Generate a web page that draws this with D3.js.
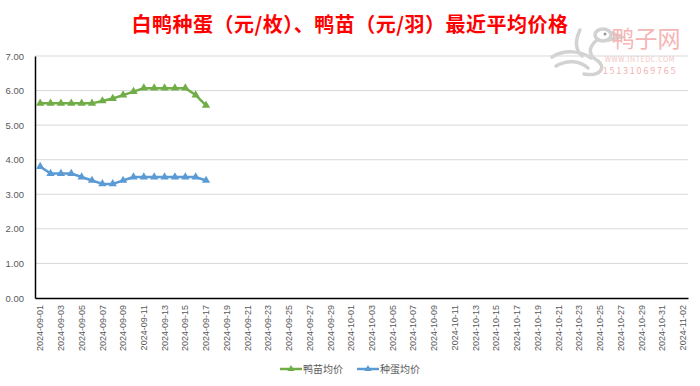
<!DOCTYPE html>
<html>
<head>
<meta charset="utf-8">
<script src="https://cdn.jsdelivr.net/npm/d3@7"></script>
<style>
body { margin: 0; background: #fff; }
svg { display: block; font-family: "Noto Sans CJK SC", "Liberation Sans", sans-serif; }
</style>
</head>
<body>
<svg id="chart" width="700" height="386"></svg>
<script>
var title = "白鸭种蛋（元/枚）、鸭苗（元/羽）最近平均价格"
var firstDay = "2024-09-01"
var lastDay = "2024-11-02"
var yTicks = [0, 1, 2, 3, 4, 5, 6, 7]
var seriesNames = ["鸭苗均价", "种蛋均价"]
var seriesColors = ["#70ad47", "#5b9bd5"]
// values from 09-01 to 09-17, the rest of the range is empty
var duckling = [5.63, 5.63, 5.63, 5.63, 5.63, 5.63, 5.70, 5.77, 5.87, 5.97, 6.07, 6.07, 6.07, 6.07, 6.07, 5.87, 5.57]
var eggs = [3.80, 3.60, 3.60, 3.60, 3.50, 3.40, 3.30, 3.30, 3.40, 3.50, 3.50, 3.50, 3.50, 3.50, 3.50, 3.50, 3.40]

var fmt = d3.timeFormat("%Y-%m-%d")
var parse = d3.timeParse("%Y-%m-%d")
var days = d3.timeDay.range(parse(firstDay), d3.timeDay.offset(parse(lastDay), 1)).map(fmt)

var svg = d3.select("#chart")
var plotL = 35, plotR = 688, plotT = 56, plotB = 298

var x = d3.scaleBand().domain(days).range([plotL, plotR])
var y = d3.scaleLinear().domain([0, 7]).range([plotB, plotT])

// watermark (duck logo + site name)
var wm = svg.append("g")
var logo = wm.append("g").attr("fill", "none").attr("stroke", "#d2d2d2")
    .attr("stroke-width", 3.5).attr("stroke-linecap", "round")
logo.append("ellipse").attr("cx", 603).attr("cy", 35).attr("rx", 8).attr("ry", 6)
logo.append("path").attr("d", "M610,32 L621,37 L609,40")
logo.append("path").attr("d", "M597,40 C587,48 589,56 598,61 C606,67 601,77 584,74")
logo.append("path").attr("d", "M552,57 C565,49 581,51 591,58")
logo.append("path").attr("d", "M556,66 C568,59 580,61 588,68")
logo.append("path").attr("d", "M580,30 C575,40 575,50 582,56")
wm.append("circle").attr("cx", 605).attr("cy", 34).attr("r", 1.5).attr("fill", "#999")
wm.append("text").attr("x", 646).attr("y", 47).attr("text-anchor", "middle")
    .style("font-size", "23px").style("fill", "#f5b5b5").text("鸭子网")
wm.append("text").attr("x", 640).attr("y", 62).attr("text-anchor", "middle")
    .style("font-size", "7px").style("fill", "#f3c4c4").style("letter-spacing", "0.6px").text("WWW.INTEDC.COM")
wm.append("text").attr("x", 640).attr("y", 74).attr("text-anchor", "middle")
    .style("font-size", "9px").style("fill", "#f3b0b0").style("letter-spacing", "1.8px").text("15131069765")

// title
svg.append("text")
    .attr("x", 350).attr("y", 32)
    .attr("text-anchor", "middle")
    .style("font-size", "20px").style("font-weight", "bold").style("fill", "#ff0000")
    .style("letter-spacing", "0.5px")
    .text(title)

// grid
svg.append("g").selectAll("line")
    .data(yTicks.slice(1))
    .enter().append("line")
    .attr("x1", plotL).attr("x2", plotR)
    .attr("y1", function(d) { return y(d) }).attr("y2", function(d) { return y(d) })
    .attr("stroke", "#d9d9d9").attr("stroke-width", 1)

// y axis
var yAxis = svg.append("g")
    .attr("transform", "translate(" + plotL + ",0)")
    .call(d3.axisLeft(y).tickValues(yTicks).tickFormat(d3.format(".2f")).tickSize(0).tickPadding(11))
yAxis.select(".domain").attr("stroke", "#000").attr("stroke-width", 1.5)
yAxis.selectAll("text").style("font-size", "9.5px").style("fill", "#595959").style("font-family", "Liberation Sans, sans-serif")

// x axis
var xAxis = svg.append("g")
    .attr("transform", "translate(0," + plotB + ")")
    .call(d3.axisBottom(x).tickValues(days.filter(function(d, i) { return i % 2 === 0 })).tickSize(0).tickSizeOuter(0))
xAxis.select(".domain").attr("stroke", "#000").attr("stroke-width", 1.5)
xAxis.selectAll("text")
    .attr("transform", "rotate(-90)")
    .attr("x", -7).attr("y", 0).attr("dy", "0.35em")
    .attr("text-anchor", "end")
    .style("font-size", "9px").style("fill", "#595959").style("font-family", "Liberation Sans, sans-serif")

// series
var series = [duckling, eggs]
var line = d3.line()
    .x(function(d, i) { return x(days[i]) + x.bandwidth() / 2 })
    .y(function(d) { return y(d) })
var tri = d3.symbol().type(d3.symbolTriangle).size(30)

series.forEach(function(vals, k) {
    var g = svg.append("g")
    g.append("path").datum(vals)
        .attr("d", line)
        .attr("fill", "none")
        .attr("stroke", seriesColors[k]).attr("stroke-width", 2.5)
        .attr("stroke-linejoin", "round")
    g.selectAll("path.pt").data(vals).enter().append("path")
        .attr("class", "pt")
        .attr("d", tri)
        .attr("transform", function(d, i) { return "translate(" + (x(days[i]) + x.bandwidth() / 2) + "," + y(d) + ")" })
        .attr("fill", seriesColors[k])
})

// legend
var lg = svg.append("g").selectAll("g")
    .data(seriesNames)
    .enter().append("g")
    .attr("transform", function(d, i) { return "translate(" + (280 + i * 77) + ",369)" })
lg.append("line").attr("x1", 0).attr("x2", 22).attr("stroke-width", 2.5)
    .attr("stroke", function(d, i) { return seriesColors[i] })
lg.append("path").attr("d", d3.symbol().type(d3.symbolTriangle).size(22))
    .attr("transform", "translate(11,0)")
    .attr("fill", function(d, i) { return seriesColors[i] })
lg.append("text").attr("x", 23).attr("dy", "0.35em")
    .style("font-size", "10px").style("fill", "#595959")
    .text(function(d) { return d })
</script>
</body>
</html>
